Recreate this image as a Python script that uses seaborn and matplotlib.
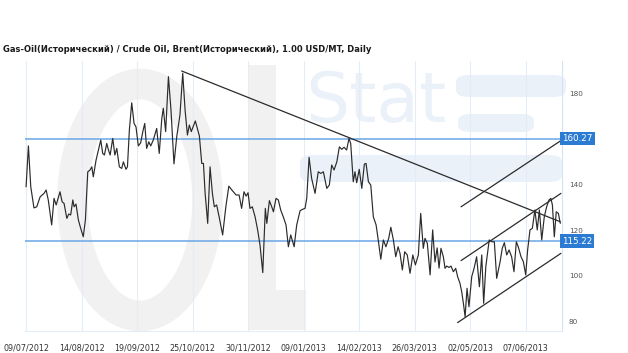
import matplotlib
matplotlib.use("Agg")
import matplotlib.pyplot as plt
import matplotlib.patches as mpatches
import matplotlib.transforms as mtransforms
import seaborn as sns
import pandas as pd

# ---------------- data (trading-day index, price ratio) ----------------
day_idx = [0, 1.1, 2.2, 3.7, 5.0, 6.6, 8.4, 9.4, 10.4, 12.0, 13.1, 14.1, 15.9, 16.9, 17.8,
           19.1, 20.0, 20.9, 21.9, 22.5, 23.4, 24.5, 25.6, 26.8, 27.8, 28.9, 30.0, 30.8,
           31.5, 32.8, 33.9, 35.0, 35.9, 36.7, 37.8, 38.6, 39.4, 40.6, 41.6, 42.5, 43.7,
           44.8, 45.6, 46.8, 47.5, 48.4, 49.5, 50.6, 51.5, 52.6, 53.7, 54.7, 55.6, 56.5,
           57.5, 58.4, 59.6, 61.2, 62.4, 63.6, 64.3, 65.4, 66.7, 67.9, 69.3, 70.6, 72.1,
           73.4, 74.5, 75.6, 76.5, 77.4, 79.3, 81.2, 82.3, 83.1, 83.9, 85.1, 86.2, 87.3,
           88.2, 89.3, 90.6, 92.1, 93.6, 95.0, 96.4, 98.4, 99.8, 101.0, 102.1, 103.1,
           104.0, 104.9, 106.0, 107.3, 108.5, 109.6, 110.9, 112.1, 112.8, 114.0, 115.1,
           115.9, 117.1, 118.2, 119.3, 120.5, 121.8, 122.9, 124.0, 125.6, 126.8, 128.4,
           129.6, 130.7, 131.5, 132.6, 133.8, 135.4, 136.9, 138.1, 139.3, 140.9, 142.1,
           143.2, 144.3, 145.6, 146.8, 147.9, 149.0, 150.2, 151.3, 152.1, 153.3, 154.1,
           154.9, 156.1, 157.3, 158.5, 159.3, 160.4, 161.5, 162.7, 164.0, 165.0, 166.2,
           167.4, 168.6, 169.9, 170.9, 172.1, 173.2, 174.3, 175.2, 176.3, 177.4, 178.6,
           179.9, 181.2, 182.4, 183.8, 184.9, 186.1, 186.9, 188.0, 189.3, 190.5, 191.6,
           192.6, 193.5, 194.4, 195.5, 196.3, 197.1, 198.2, 199.1, 200.2, 201.3, 202.2,
           203.3, 204.1, 204.9, 205.7, 206.6, 207.5, 208.8, 209.9, 211.1, 212.4, 213.5,
           214.4, 215.4, 216.3, 217.0, 218.2, 219.4, 220.5, 222.1, 223.1, 224.1, 225.2,
           226.3, 227.5, 228.6, 229.7, 230.6, 231.9, 233.0, 234.1, 235.0, 236.1, 237.2,
           238.4, 239.5, 240.5, 241.6, 242.8, 243.9, 245.0, 245.9, 246.6, 247.5, 248.4,
           249.4, 250.3]
ratio = [139.1, 157.1, 139.1, 129.8, 130.3, 134.7, 136.2, 137.7, 133.3, 122.3, 134.0, 131.1,
         136.9, 132.5, 131.8, 125.2, 127.1, 126.7, 133.3, 130.3, 131.5, 124.5, 120.8, 117.1,
         124.5, 145.7, 146.5, 147.9, 143.5, 150.9, 155.3, 159.7, 153.8, 153.1, 158.2, 155.3,
         153.1, 160.4, 153.1, 156.0, 147.9, 147.2, 150.1, 146.8, 147.9, 164.1, 176.1, 167.0,
         165.5, 157.1, 158.5, 163.4, 167.0, 156.0, 158.9, 157.1, 159.7, 164.8, 153.8, 169.2,
         173.7, 163.4, 187.6, 172.9, 149.2, 161.2, 170.7, 189.1, 172.9, 161.9, 166.3, 163.4,
         168.1, 161.5, 149.4, 149.4, 136.2, 123.0, 147.9, 136.2, 130.3, 131.1, 125.2, 117.9,
         130.3, 139.4, 137.7, 135.5, 135.5, 129.6, 136.9, 135.0, 136.5, 129.6, 130.3, 125.9,
         120.1, 113.5, 101.3, 129.6, 123.0, 133.0, 130.3, 128.1, 134.0, 133.3, 128.9, 125.9,
         122.3, 112.7, 117.9, 112.7, 122.3, 128.6, 129.2, 129.6, 134.0, 152.1, 142.8, 136.2,
         145.7, 145.0, 145.7, 138.4, 139.9, 148.7, 146.5, 150.1, 156.7, 155.6, 156.5, 155.3,
         160.4, 158.2, 141.3, 145.7, 140.9, 146.8, 138.4, 149.1, 149.4, 141.3, 139.9, 125.9,
         122.3, 115.7, 107.2, 115.7, 112.7, 116.4, 121.3, 115.7, 108.3, 112.7, 109.8, 102.5,
         110.5, 109.1, 101.0, 109.1, 104.7, 109.1, 127.4, 112.0, 116.4, 114.2, 100.3, 120.1,
         106.0, 112.2, 103.3, 112.0, 108.3, 103.2, 104.2, 103.6, 104.2, 101.7, 103.2, 99.5,
         96.6, 92.9, 87.8, 81.9, 94.4, 86.3, 99.5, 103.2, 108.3, 95.1, 109.1, 87.8, 103.9,
         110.5, 115.7, 114.9, 114.9, 98.8, 106.1, 112.0, 114.5, 109.1, 111.3, 108.3, 101.7,
         114.9, 112.7, 108.3, 106.1, 100.3, 111.3, 120.1, 120.8, 128.9, 120.1, 128.9, 115.7,
         125.9, 130.3, 133.3, 134.0, 131.1, 117.1, 128.1, 127.4, 123.0]

# trend lines: (start day, end day), (start value, end value)
down_trend_x = [72.9, 250.3]
down_trend_y = [190.1, 123.7]
long_up_x = [203.8, 251.0]
long_up_y = [130.3, 159.7]
chan_top_x = [203.8, 250.6]
chan_top_y = [106.6, 136.2]
chan_bot_x = [202.2, 250.6]
chan_bot_y = [79.3, 109.8]

levels = [160.27, 115.22]
level_labels = ["160.27", "115.22"]

tick_days = [0, 26, 52, 78, 104, 130, 156, 182, 208, 234]
tick_labels = ["09/07/2012", "14/08/2012", "19/09/2012", "25/10/2012", "30/11/2012",
               "09/01/2013", "14/02/2013", "26/03/2013", "02/05/2013", "07/06/2013"]
y_ticks = [80, 100, 120, 140, 180]

title = "Gas-Oil(Исторический) / Crude Oil, Brent(Исторический), 1.00 USD/MT, Daily"

# ---------------- figure ----------------
sns.set_theme(style="white")
plt.rcParams['font.family'] = ['DejaVu Sans']

W, H = 628, 353
fig = plt.figure(figsize=(W / 100, H / 100), dpi=100)
fig.patch.set_facecolor("white")


def fx(px):
    return px / W


def fy(py):
    return 1 - py / H


# watermark "Oil" (grey) and "Stat" (light blue)
grey_wm = "#f1f1f1"
blue_wm = "#ebf1f9"
fig.add_artist(mpatches.Ellipse((fx(140), fy(200)), 135 / W, 232 / H, fill=False,
                                edgecolor=grey_wm, linewidth=22, transform=fig.transFigure,
                                zorder=-2))
fig.add_artist(mpatches.Rectangle((fx(248), fy(300)), 28 / W, 235 / H, color=grey_wm,
                                  transform=fig.transFigure, zorder=-2, linewidth=0))
fig.add_artist(mpatches.Rectangle((fx(248), fy(330)), 58 / W, 40 / H, color=grey_wm,
                                  transform=fig.transFigure, zorder=-2, linewidth=0))
fig.text(fx(305), fy(103), "Stat", fontsize=50, color=blue_wm, ha="left", va="center",
         zorder=-2)
fig.add_artist(mpatches.FancyBboxPatch((fx(456), fy(97)), 110 / W, 22 / H,
                                       boxstyle="round,pad=0,rounding_size=0.02",
                                       color=blue_wm, transform=fig.transFigure,
                                       zorder=-2, linewidth=0))
fig.add_artist(mpatches.FancyBboxPatch((fx(458), fy(132)), 76 / W, 18 / H,
                                       boxstyle="round,pad=0,rounding_size=0.02",
                                       color=blue_wm, transform=fig.transFigure,
                                       zorder=-2, linewidth=0))
fig.add_artist(mpatches.FancyBboxPatch((fx(300), fy(182)), 262 / W, 27 / H,
                                       boxstyle="round,pad=0,rounding_size=0.02",
                                       color=blue_wm, transform=fig.transFigure,
                                       zorder=-2, linewidth=0))

left, right, top, bottom = 25, 562, 61, 331
ax = fig.add_axes([fx(left), fy(bottom), (right - left) / W, (bottom - top) / H])
ax.set_facecolor("none")

df = pd.DataFrame({"day": day_idx, "ratio": ratio})
sns.lineplot(data=df, x="day", y="ratio", ax=ax, color="#2b2b2b", linewidth=0.85,
             estimator=None, zorder=4)

for xs, ys in [(down_trend_x, down_trend_y), (long_up_x, long_up_y),
               (chan_top_x, chan_top_y), (chan_bot_x, chan_bot_y)]:
    sns.lineplot(x=xs, y=ys, ax=ax, color="#2b2b2b", linewidth=0.9, estimator=None,
                 zorder=5)

for lv in levels:
    ax.axhline(lv, color="#6aa6e4", linewidth=1.1, zorder=3)

ax.set_xlim(-0.5, 251.1)
ax.set_ylim(75.6, 194.5)

ax.set_xticks(tick_days)
ax.set_xticklabels(tick_labels, fontsize=5.8, color="#333333")
ax.set_yticks(y_ticks)
ax.set_yticklabels([str(v) for v in y_ticks], fontsize=5.2, color="#555555")
ax.yaxis.tick_right()
ax.tick_params(axis="x", length=0, pad=9)
ax.tick_params(axis="y", length=0, pad=5)
ax.set_xlabel("")
ax.set_ylabel("")

ax.grid(axis="x", color="#e4edf7", linewidth=0.8, zorder=0)
ax.grid(axis="y", visible=False)
for s in ["left", "top"]:
    ax.spines[s].set_visible(False)
ax.spines["right"].set_color("#d3e3f3")
ax.spines["right"].set_linewidth(0.8)
ax.spines["bottom"].set_color("#e4edf7")
ax.spines["bottom"].set_linewidth(0.8)

trans = mtransforms.blended_transform_factory(ax.transAxes, ax.transData)
for lv, lab in zip(levels, level_labels):
    ax.text(1.0, lv, lab, transform=trans, ha="left", va="center", fontsize=6.3,
            color="white", zorder=10, clip_on=False,
            bbox=dict(boxstyle="square,pad=0.25", facecolor="#2c7bd3",
                      edgecolor="none"))

fig.text(fx(3), fy(49.5), title, fontsize=6, fontweight="bold", color="#1a1a1a",
         ha="left", va="center")

fig.savefig("out.png", dpi=100, facecolor="white")
